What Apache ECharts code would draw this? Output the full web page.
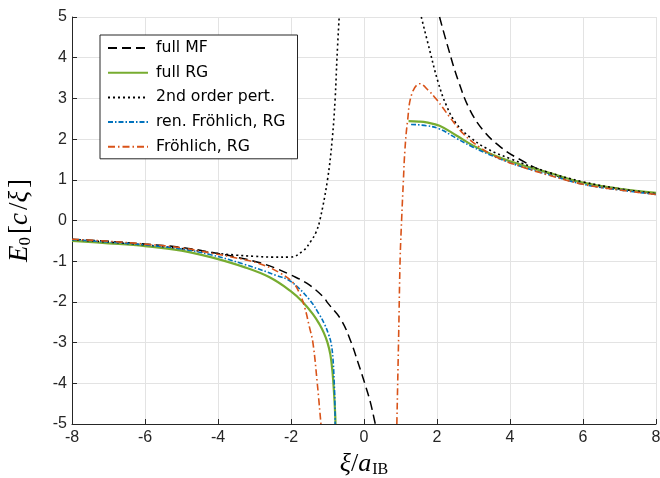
<!DOCTYPE html>
<html>
<head>
<meta charset="utf-8">
<script src="https://cdn.jsdelivr.net/npm/echarts@6/dist/echarts.min.js"></script>
<style>
  html, body { margin: 0; padding: 0; background: #fff; }
  #chart { width: 660px; height: 478px; }
</style>
</head>
<body>
<div id="chart"></div>
<script>
// Ground-state energy E0 (units c/xi) versus xi/a_IB, two branches per curve
// (attractive side a_IB < 0 and repulsive side a_IB > 0).

const xTicks = [-8, -6, -4, -2, 0, 2, 4, 6, 8];
const yTicks = [-5, -4, -3, -2, -1, 0, 1, 2, 3, 4, 5];

const legendNames = ['full MF', 'full RG', '2nd order pert.', 'ren. Fröhlich, RG', 'Fröhlich, RG'];

// full mean-field
const fullMF_left = [[-8, -0.46], [-7, -0.51], [-6, -0.58], [-5, -0.66], [-4.2, -0.78], [-3.5, -0.9],
  [-2.85, -1.04], [-2.4, -1.18], [-2.0, -1.34], [-1.57, -1.54], [-1.11, -1.88], [-0.99, -2.03],
  [-0.62, -2.45], [-0.35, -3.0], [-0.16, -3.5], [0.02, -4.0], [0.17, -4.45], [0.29, -4.92], [0.31, -5.0]];
const fullMF_right = [[2.07, 5.0], [2.30, 4.26], [2.58, 3.44], [2.9, 2.72], [3.27, 2.21], [3.72, 1.82],
  [4.23, 1.52], [5, 1.18], [6, 0.93], [7, 0.78], [8, 0.66]];

// full RG
const fullRG_left = [[-8, -0.50], [-7, -0.56], [-6, -0.63], [-5, -0.74], [-4.2, -0.9], [-3.3, -1.14],
  [-2.6, -1.39], [-2.0, -1.74], [-1.68, -2.0], [-1.4, -2.3], [-1.22, -2.55], [-1.1, -2.76],
  [-1.0, -3.0], [-0.92, -3.3], [-0.86, -3.75], [-0.82, -4.25], [-0.79, -4.75], [-0.78, -5.0]];
const fullRG_right = [[1.22, 2.44], [1.5, 2.43], [1.71, 2.41], [2.07, 2.33], [2.53, 2.09], [2.99, 1.84],
  [3.54, 1.61], [4.09, 1.43], [4.64, 1.28], [5, 1.19], [6, 0.93], [7, 0.78], [8, 0.68]];

// second-order perturbation theory
const pert2_left = [[-8, -0.47], [-7, -0.53], [-6, -0.6], [-5, -0.69], [-4.2, -0.79], [-3.5, -0.85],
  [-3.0, -0.88], [-2.5, -0.9], [-2.03, -0.9], [-1.66, -0.74], [-1.45, -0.5], [-1.32, -0.3],
  [-1.21, 0.0], [-1.0, 1.0], [-0.87, 2.0], [-0.79, 3.0], [-0.74, 4.0], [-0.68, 5.0]];
const pert2_right = [[1.57, 5.0], [1.8, 4.18], [2.03, 3.4], [2.26, 2.82], [2.53, 2.38],
  [2.9, 2.05], [3.36, 1.77], [4.0, 1.52], [5, 1.2], [6, 0.95], [7, 0.78], [8, 0.66]];

// renormalized Froehlich model, RG
const renFr_left = [[-8, -0.47], [-7, -0.53], [-6, -0.6], [-5, -0.7], [-4.2, -0.84], [-3.3, -1.07],
  [-2.4, -1.35], [-2.0, -1.5], [-1.5, -1.94], [-1.23, -2.3], [-1.08, -2.55], [-0.97, -2.8],
  [-0.9, -3.02], [-0.85, -3.4], [-0.82, -3.9], [-0.8, -4.4], [-0.79, -5.0]];
const renFr_right = [[1.29, 2.36], [1.71, 2.33], [2.07, 2.25], [2.53, 2.02], [2.99, 1.8], [3.54, 1.58],
  [4.09, 1.39], [5, 1.14], [6, 0.89], [7, 0.75], [8, 0.64]];

// Froehlich model, RG
const fr_left = [[-8, -0.46], [-7, -0.51], [-6, -0.58], [-5, -0.67], [-4.2, -0.8], [-3.5, -0.92],
  [-2.86, -1.06], [-2.32, -1.28], [-1.95, -1.52], [-1.76, -1.8], [-1.62, -2.15], [-1.5, -2.6],
  [-1.4, -3.0], [-1.28, -4.0], [-1.18, -5.0]];
const fr_right = [[0.9, -5.0], [0.95, -2.8], [0.99, -0.94], [1.03, 0.0], [1.08, 1.0], [1.12, 1.72],
  [1.19, 2.42], [1.31, 3.11], [1.53, 3.36], [1.76, 3.2], [1.99, 2.97], [2.35, 2.54], [2.72, 2.13],
  [3.17, 1.80], [3.63, 1.56], [4.09, 1.39], [5, 1.13], [6, 0.89], [7, 0.75], [8, 0.64]];

const styles = {
  'full MF':           { color: '#000000', width: 1.5, type: [9, 5] },
  'full RG':           { color: '#77AC30', width: 2.2, type: 'solid' },
  '2nd order pert.':   { color: '#000000', width: 1.6, type: [2, 3] },
  'ren. Fröhlich, RG': { color: '#0072BD', width: 1.6, type: [5, 2, 1.5, 2] },
  'Fröhlich, RG':      { color: '#D95319', width: 1.6, type: [7, 3, 1.5, 3] }
};

const branches = [
  ['full MF', fullMF_left], ['full MF', fullMF_right],
  ['full RG', fullRG_left], ['full RG', fullRG_right],
  ['2nd order pert.', pert2_left], ['2nd order pert.', pert2_right],
  ['ren. Fröhlich, RG', renFr_left], ['ren. Fröhlich, RG', renFr_right],
  ['Fröhlich, RG', fr_left], ['Fröhlich, RG', fr_right]
];

const series = branches.map(([name, data]) => {
  const s = styles[name];
  return {
    name, type: 'line', data,
    symbol: 'none', showSymbol: false, smooth: 0.4,
    clip: true, animation: false,
    color: s.color,
    lineStyle: { color: s.color, width: s.width, type: s.type }
  };
});

const axisCol = '#262626';
const chart = echarts.init(document.getElementById('chart'), null, { renderer: 'canvas' });
chart.setOption({
  backgroundColor: '#ffffff',
  animation: false,
  grid: { left: 72, right: 4, top: 17, bottom: 54, containLabel: false, outerBoundsMode: 'none' },
  xAxis: {
    type: 'value', min: xTicks[0], max: xTicks[xTicks.length - 1], interval: 2,
    axisLine: { onZero: false, lineStyle: { color: axisCol, width: 1 } },
    axisTick: { inside: true, length: 5, lineStyle: { color: axisCol } },
    axisLabel: { color: '#262626', fontFamily: 'Liberation Sans', fontSize: 16, margin: 6 },
    splitLine: { show: true, lineStyle: { color: '#e3e3e3', width: 1 } },
    name: '{i|ξ}{n|/}{i|a}{sub|IB}',
    nameLocation: 'middle', nameGap: 26,
    nameTextStyle: {
      rich: {
        i: { fontFamily: 'Liberation Serif', fontStyle: 'italic', fontSize: 26, color: '#000' },
        n: { fontFamily: 'Liberation Serif', fontSize: 26, color: '#000' },
        sub: { fontFamily: 'Liberation Serif', fontSize: 16, color: '#000', padding: [12, 0, 0, 1] }
      }
    }
  },
  yAxis: {
    type: 'value', min: yTicks[0], max: yTicks[yTicks.length - 1], interval: 1,
    axisLine: { show: true, onZero: false, lineStyle: { color: axisCol, width: 1 } },
    axisTick: { show: true, inside: true, length: 5, lineStyle: { color: axisCol } },
    axisLabel: { color: '#262626', fontFamily: 'Liberation Sans', fontSize: 16, margin: 5 },
    splitLine: { show: true, lineStyle: { color: '#e3e3e3', width: 1 } },
    name: '{i|E}{sub|0}{n|[}{i|c}{n|/}{i|ξ}{n|]}',
    nameLocation: 'middle', nameGap: 38, nameRotate: 90,
    nameTextStyle: {
      rich: {
        i: { fontFamily: 'Liberation Serif', fontStyle: 'italic', fontSize: 27, color: '#000' },
        n: { fontFamily: 'Liberation Serif', fontSize: 27, color: '#000', padding: [0, 0, 0, 3] },
        sub: { fontFamily: 'Liberation Serif', fontSize: 17, color: '#000', padding: [12, 0, 0, 0] }
      }
    }
  },
  legend: {
    data: legendNames,
    orient: 'vertical', left: 100, top: 35,
    itemWidth: 40, itemHeight: 14, itemGap: 8.7,
    padding: [5, 12, 4, 7],
    borderColor: '#262626', borderWidth: 1, backgroundColor: '#ffffff', borderRadius: 0,
    itemStyle: { opacity: 0 },
    textStyle: { fontFamily: 'DejaVu Sans', fontSize: 15.7, lineHeight: 14, color: '#000', padding: [0, 0, 0, 3] },
    selectedMode: false
  },
  series
});
</script>
</body>
</html>
